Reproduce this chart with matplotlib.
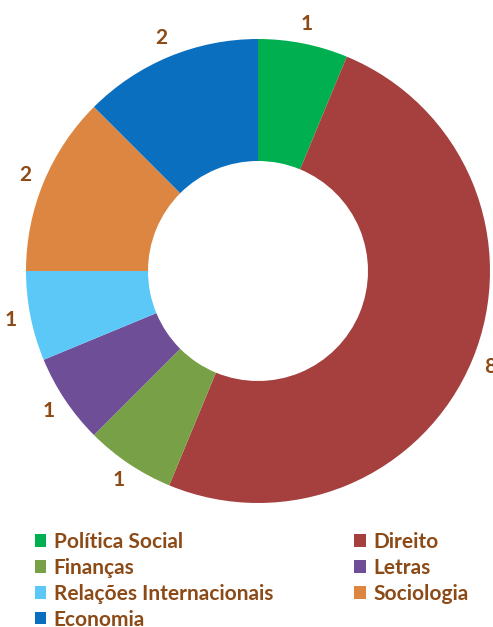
import matplotlib
matplotlib.use("Agg")
import matplotlib.pyplot as plt
from matplotlib.patches import Patch

categories = ["Política Social", "Direito", "Finanças", "Letras",
              "Relações Internacionais", "Sociologia", "Economia"]
values = [1, 8, 1, 1, 1, 2, 2]
colors = ["#00B050", "#A5403F", "#78A046", "#6E4E96", "#5BC8F8", "#DD8642", "#0A6FBE"]
label_color = "#8C4A17"

W, H = 493, 627
fig = plt.figure(figsize=(W / 100, H / 100), dpi=100)
ax = fig.add_axes([0, 0, 1, 1])
ax.set_xlim(0, W)
ax.set_ylim(0, H)
ax.set_aspect("equal")
ax.axis("off")

cx, cy, R = 258, H - 271, 232
wedges, texts = ax.pie(values, labels=[str(v) for v in values], colors=colors,
                       startangle=90, counterclock=False, center=(cx, cy), radius=R,
                       labeldistance=1.085, frame=True,
                       wedgeprops=dict(width=R - 110, linewidth=0),
                       textprops=dict(fontsize=15, fontweight="bold", color=label_color,
                                      family=["Lato", "DejaVu Sans"]))
for t in texts:
    t.set_ha("center")
    t.set_va("center")
ax.set_xlim(0, W)
ax.set_ylim(0, H)
ax.axis("off")

order = [0, 2, 4, 6, 1, 3, 5]
handles = [Patch(facecolor=colors[i], edgecolor="none") for i in order]
labels = [categories[i] for i in order]
leg = fig.legend(handles, labels, ncol=2, loc="upper left",
                 bbox_to_anchor=(35 / W, 1 - 532 / H), frameon=False,
                 prop=dict(family=["Lato", "DejaVu Sans"], weight="bold", size=15),
                 handlelength=0.55, handleheight=0.55, handletextpad=0.35,
                 columnspacing=3.9, labelspacing=0.28, borderpad=0, borderaxespad=0)
for t in leg.get_texts():
    t.set_color(label_color)

fig.savefig("out.png", dpi=100)
